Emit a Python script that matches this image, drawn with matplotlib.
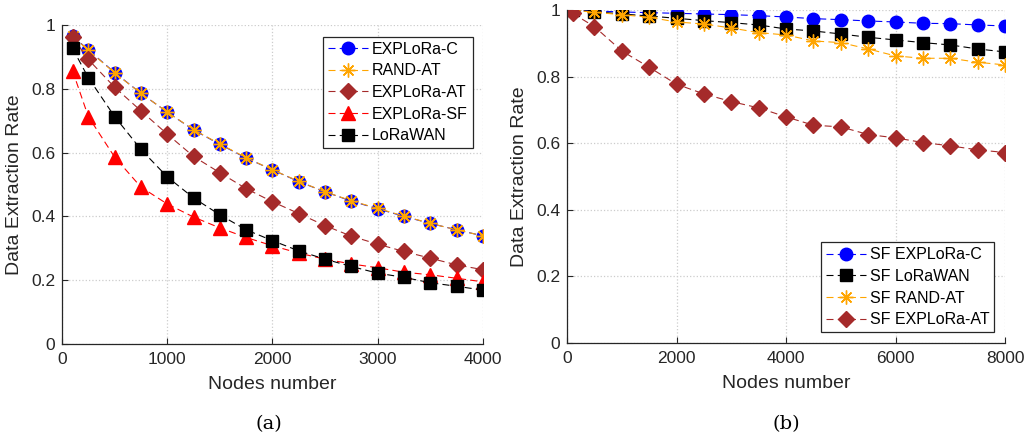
import matplotlib
matplotlib.use('Agg')
import matplotlib.pyplot as plt

plt.rcParams['font.family'] = ['Liberation Sans', 'DejaVu Sans']

# (a) fixed-SF scenario, 100..4000 nodes
nodes_a = [100, 250, 500, 750, 1000, 1250, 1500, 1750, 2000, 2250, 2500, 2750, 3000, 3250, 3500, 3750, 4000]
explora_c_a = [0.966, 0.922, 0.851, 0.786, 0.727, 0.671, 0.626, 0.583, 0.546, 0.509, 0.477, 0.448, 0.424, 0.400, 0.378, 0.358, 0.339]
rand_at_a = [0.965, 0.921, 0.850, 0.786, 0.727, 0.672, 0.627, 0.584, 0.546, 0.510, 0.477, 0.449, 0.425, 0.401, 0.378, 0.358, 0.339]
explora_at_a = [0.963, 0.892, 0.805, 0.731, 0.658, 0.588, 0.537, 0.487, 0.446, 0.409, 0.371, 0.338, 0.313, 0.290, 0.269, 0.248, 0.233]
explora_sf_a = [0.857, 0.713, 0.586, 0.492, 0.439, 0.398, 0.364, 0.334, 0.308, 0.285, 0.266, 0.251, 0.239, 0.225, 0.217, 0.206, 0.195]
lorawan_a = [0.927, 0.835, 0.713, 0.610, 0.524, 0.458, 0.405, 0.358, 0.324, 0.292, 0.266, 0.243, 0.222, 0.209, 0.192, 0.181, 0.169]

# (b) SF allocation scenario, 100..8000 nodes
nodes_b = [100, 500, 1000, 1500, 2000, 2500, 3000, 3500, 4000, 4500, 5000, 5500, 6000, 6500, 7000, 7500, 8000]
sf_explora_c_b = [1.0, 0.997, 0.994, 0.992, 0.990, 0.988, 0.986, 0.983, 0.979, 0.974, 0.971, 0.967, 0.964, 0.960, 0.959, 0.955, 0.952]
sf_lorawan_b = [1.0, 0.995, 0.988, 0.982, 0.975, 0.968, 0.962, 0.955, 0.943, 0.937, 0.928, 0.918, 0.910, 0.902, 0.895, 0.883, 0.874]
sf_rand_at_b = [1.0, 0.993, 0.986, 0.978, 0.964, 0.958, 0.946, 0.932, 0.925, 0.907, 0.902, 0.883, 0.862, 0.855, 0.855, 0.843, 0.835]
sf_explora_at_b = [0.99, 0.950, 0.877, 0.828, 0.777, 0.748, 0.725, 0.706, 0.679, 0.654, 0.649, 0.626, 0.616, 0.602, 0.592, 0.580, 0.572]

BLUE = '#0000ff'
ORANGE = '#ffa500'
BROWN = '#a52a2a'
RED = '#ff0000'
BLACK = '#000000'
TEXT = '#262626'

# marker styles per series family (matlab-like o, *, d, ^, s)
STYLES = {
    'c': dict(color=BLUE, marker='o', markersize=9),
    'rand': dict(color=ORANGE, marker=(8, 2, 0), markersize=10, markeredgewidth=1.0),
    'at': dict(color=BROWN, marker='D', markersize=8),
    'sf': dict(color=RED, marker='^', markersize=9.5),
    'lw': dict(color=BLACK, marker='s', markersize=8),
}
LINE = dict(linestyle='--', dashes=(6.3, 3.8), linewidth=0.8)

fig = plt.figure(figsize=(10.28, 4.38), dpi=100)
ax1 = fig.add_axes([0.0603, 0.2146, 0.4095, 0.7283])
ax2 = fig.add_axes([0.5516, 0.2169, 0.4261, 0.7603])


def style_axes(ax, xmax, xstep):
    ax.set_xlim(0, xmax)
    ax.set_ylim(0, 1)
    ax.set_xticks(range(0, xmax + 1, xstep))
    ax.set_yticks([0, 0.2, 0.4, 0.6, 0.8, 1])
    ax.set_yticklabels(['0', '0.2', '0.4', '0.6', '0.8', '1'])
    ax.grid(True, linestyle=':', color='#cccccc', linewidth=0.9)
    ax.set_axisbelow(True)
    for side in ('top', 'right'):
        ax.spines[side].set_visible(False)
    for side in ('left', 'bottom'):
        ax.spines[side].set_color(TEXT)
        ax.spines[side].set_linewidth(0.9)
    ax.tick_params(direction='in', length=4, labelsize=12.5, colors=TEXT)
    ax.tick_params(axis='x', pad=6)
    ax.tick_params(axis='y', pad=5)
    ax.set_xlabel('Nodes number', fontsize=14, color=TEXT, labelpad=6)
    ax.set_ylabel('Data Extraction Rate', fontsize=14, color=TEXT, labelpad=6)


def add_legend(ax, **kwargs):
    leg = ax.legend(fontsize=11.5, fancybox=False, edgecolor=TEXT, framealpha=1,
                    handlelength=2.5, handletextpad=0.25, borderpad=0.3,
                    labelspacing=0.42, borderaxespad=0, **kwargs)
    leg.get_frame().set_linewidth(0.9)
    return leg


ax1.plot(nodes_a, explora_c_a, label='EXPLoRa-C', **STYLES['c'], **LINE)
ax1.plot(nodes_a, rand_at_a, label='RAND-AT', **STYLES['rand'], **LINE)
ax1.plot(nodes_a, explora_at_a, label='EXPLoRa-AT', **STYLES['at'], **LINE)
ax1.plot(nodes_a, explora_sf_a, label='EXPLoRa-SF', **STYLES['sf'], **LINE)
ax1.plot(nodes_a, lorawan_a, label='LoRaWAN', **STYLES['lw'], **LINE)
style_axes(ax1, 4000, 1000)
add_legend(ax1, loc='upper right', bbox_to_anchor=(0.976, 0.963))

ax2.plot(nodes_b, sf_explora_c_b, label='SF EXPLoRa-C', **STYLES['c'], **LINE)
ax2.plot(nodes_b, sf_lorawan_b, label='SF LoRaWAN', **STYLES['lw'], **LINE)
ax2.plot(nodes_b, sf_rand_at_b, label='SF RAND-AT', **STYLES['rand'], **LINE)
ax2.plot(nodes_b, sf_explora_at_b, label='SF EXPLoRa-AT', **STYLES['at'], **LINE)
style_axes(ax2, 8000, 2000)
add_legend(ax2, loc='lower right', bbox_to_anchor=(0.975, 0.033))

fig.text(0.262, 0.02, '(a)', fontsize=14, family=['DejaVu Serif'], ha='center')
fig.text(0.765, 0.02, '(b)', fontsize=14, family=['DejaVu Serif'], ha='center')

fig.savefig('out.png', dpi=100)
